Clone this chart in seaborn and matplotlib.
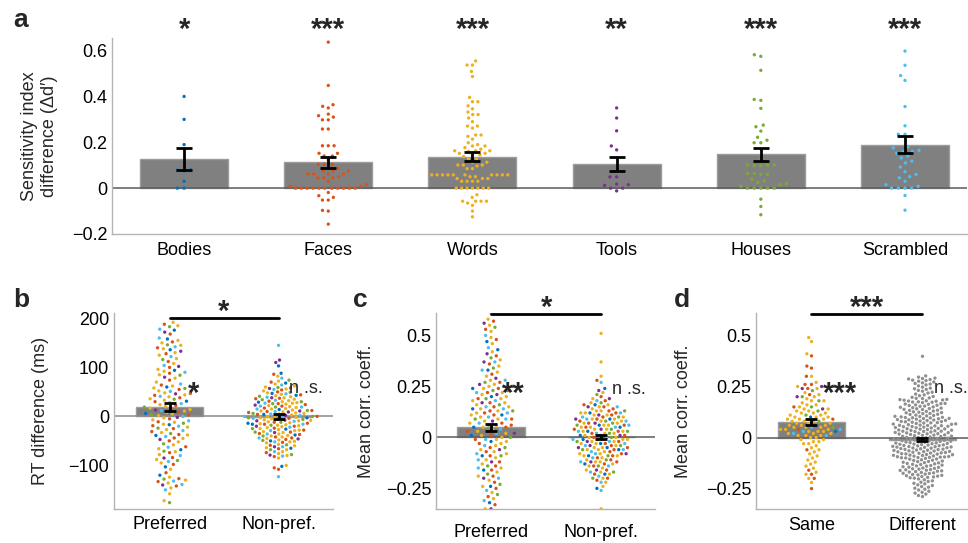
import matplotlib
matplotlib.use("Agg")
import matplotlib.pyplot as plt
import numpy as np
import pandas as pd
import seaborn as sns

# ---------------------------------------------------------------- data
CATEGORIES = ["Bodies", "Faces", "Words", "Tools", "Houses", "Scrambled"]
CAT_COLORS = ["#0072BD", "#D95319", "#EDB120", "#7E2F8E", "#77AC30", "#4DBEEE"]
OTHER_COLOR = "#8f8f8f"

# panel a: sensitivity index difference per subject / category
a_bodies = [0.40, 0.30, 0.19, 0.08, 0.078, 0.075, 0.03, 0.0, 0.0]
a_faces = [0.637, 0.448, 0.364, 0.357, 0.35, 0.323, 0.316, 0.31, 0.298, 0.298,
           0.258, 0.258, 0.185, 0.185, 0.185, 0.152, 0.152, 0.14, 0.14, 0.123,
           0.104, 0.104, 0.104, 0.087, 0.087, 0.075, 0.075, 0.075, 0.062, 0.062,
           0.062, 0.062, 0.05, 0.045, 0.045, 0.045, 0.03, 0.015, 0.008, 0.008,
           0, 0, 0, 0, 0, 0, 0, 0, 0, 0, 0,
           -0.019, -0.033, -0.04, -0.052, -0.052, -0.097, -0.1, -0.157]
a_words = [0.555, 0.537, 0.537, 0.509, 0.487, 0.396, 0.377, 0.377, 0.359, 0.346,
           0.332, 0.321, 0.321, 0.306, 0.29, 0.271, 0.271, 0.262, 0.232, 0.232,
           0.226, 0.214, 0.198, 0.19, 0.184, 0.184, 0.177, 0.17, 0.163, 0.163,
           0.163, 0.16, 0.152, 0.152, 0.145, 0.145, 0.138, 0.128, 0.128, 0.113,
           0.113, 0.101, 0.101, 0.101, 0.097, 0.085, 0.085,
           0.058, 0.058, 0.058, 0.058, 0.058, 0.058, 0.058, 0.058, 0.058, 0.058,
           0.05, 0.05, 0.042, 0.042, 0.042, 0.03, 0.03, 0.03, 0.03,
           0, 0, 0, 0, 0, 0, 0,
           -0.029, -0.04, -0.057, -0.057, -0.057, -0.057, -0.065, -0.075, -0.1, -0.125]
a_tools = [0.35, 0.306, 0.25, 0.184, 0.167, 0.049, 0.049, 0.018, 0.015, 0.012, 0, 0, -0.012]
a_houses = [0.582, 0.575, 0.514, 0.387, 0.383, 0.348, 0.275, 0.268, 0.249, 0.222,
            0.209, 0.198, 0.198, 0.129, 0.101, 0.101, 0.098, 0.098, 0.1, 0.064,
            0.064, 0.06, 0.06, 0.038, 0.032, 0.025, 0.02, 0.015, 0.008,
            0, 0, 0, 0, 0, -0.048, -0.08, -0.116]
a_scrambled = [0.598, 0.536, 0.491, 0.47, 0.356, 0.272, 0.235, 0.235, 0.18, 0.176,
               0.165, 0.16, 0.16, 0.152, 0.14, 0.132, 0.118, 0.11, 0.092, 0.072,
               0.06, 0.05, 0.045, 0.03, 0.015, 0.008, 0, 0, 0, 0, -0.032, -0.096]
a_means = [0.128, 0.112, 0.138, 0.105, 0.147, 0.188]
a_err_lo = [0.081, 0.090, 0.120, 0.075, 0.118, 0.152]
a_err_hi = [0.175, 0.136, 0.156, 0.135, 0.177, 0.226]
a_stars = ["*", "***", "***", "**", "***", "***"]
a_yticks = [-0.2, 0, 0.2, 0.4, 0.6]
a_yticklabels = ["\u22120.2", "0", "0.2", "0.4", "0.6"]

# panel b: RT difference (ms)
b_groups = ["Preferred", "Non-pref."]
b_pref_bodies = [176, 158, 136, 94, 60, 31, 6, -17, -39, -68, -103, -120]
b_pref_faces = [188, 168, 152, 140, 128, 112, 100, 88, 74, 64, 55, 47, 38, 30, 22, 16, 9, 3,
                -5, -11, -19, -25, -31, -37, -44, -50, -62, -74, -84, -98, -115, -127, -133,
                -142, 43]
b_pref_words = [192, 185, 150, 145, 138, 130, 125, 118, 108, 96, 92, 85, 78, 70, 62, 58, 52,
                48, 44, 40, 36, 33, 28, 24, 20, 17, 14, 11, 8, 5, 2, -3, -7, -12, -16, -22,
                -27, -33, -38, -45, -52, -58, -66, -72, -78, -88, -95, -108, -124, -130,
                -136, -146, -158, -172, 155]
b_pref_tools = [172, 133, 102, 80, 46, 13, -2, -47, -85, -140]
b_pref_houses = [183, 146, 116, 84, 57, 35, 19, 4, -14, -24, -35, -56, -71, -90, -128, -176]
b_pref_scrambled = [178, 160, 142, 122, 104, 90, 66, 51, 41, 26, 12, 0, -9, -20, -29, -41,
                    -63, -80, -92, -132, -150, -139]
b_non_bodies = [103, 88, 68, 43, 29, 14, 4, -3, -14, -26, -38, -50, -65, -102, 47, -16]
b_non_faces = [86, 70, 58, 50, 44, 37, 31, 26, 21, 17, 12, 8, 4, 0, -4, -8, -12, -16, -20,
               -24, -28, -32, -37, -42, -47, -53, -59, -66, -74, -82, -105, -108, 24, 10,
               -6, -14, -35, -44, 54, 36]
b_non_words = [82, 72, 66, 60, 56, 52, 48, 45, 42, 38, 35, 32, 30, 27, 25, 22, 20, 18, 15,
               13, 11, 9, 7, 5, 3, 1, -1, -3, -5, -7, -9, -11, -13, -15, -17, -19, -21,
               -23, -25, -27, -29, -31, -33, -36, -39, -42, -45, -48, -51, -54, -57, -60,
               -64, -68, -72, -76, -80, -85, -100, 28, 16, 6, -2, -8, -18, -28, -40, -52,
               40, 62]
b_non_tools = [115, 110, 57, 38, 23, 11, 2, -9, -20, -33, -46, -62, -79, 9]
b_non_houses = [74, 59, 49, 41, 34, 26, 19, 12, 6, 0, -6, -12, -18, -25, -32, -40, -49,
                -58, -68, -78, 30, -3]
b_non_scrambled = [145, 78, 64, 55, 46, 39, 33, 27, 21, 15, 10, 5, 0, -4, -10, -16, -22,
                   -29, -36, -44, -52, -62, -72, -81, -123, 19, -2, 2]
b_means = [19, -1]
b_err_lo = [11, -6]
b_err_hi = [27, 4]
b_yticks = [-100, 0, 100, 200]
b_yticklabels = ["\u2212100", "0", "100", "200"]

# panel c: mean correlation coefficient (x 0.01)
c_groups = ["Preferred", "Non-pref."]
c_pref_bodies = [47, 43, 33, 24, 20, 14, 11, 5, 1, -2, -9, -16, -24, -32]
c_pref_faces = [57, 53, 48, 40, 36, 31, 27, 24, 22, 19, 17, 15, 13, 11, 9, 7, 5, 3, 1, -1,
                -3, -5, -7, -9, -12, -14, -16, -19, -22, -25, -29, -33, 23, 12, 6]
c_pref_words = [58, 55, 52, 49, 46, 42, 38, 35, 32, 30, 28, 26, 24, 22, 21, 19, 18, 16, 15,
                13, 12, 10, 9, 8, 6, 5, 3, 2, 0, -1, -3, -4, -6, -8, -10, -11, -13, -15,
                -17, -19, -21, -24, -27, -30, -35, 20, 14, 11, 7, 4, 1, -2, -7, 25, 17]
c_pref_tools = [56, 41, 37, 29, 26, 21, 17, 8, 2, -6, -12, -20, -35]
c_pref_houses = [54, 39, 34, 27, 23, 19, 16, 13, 9, 6, 3, 0, -5, -9, -14, -18, -23, -28]
c_pref_scrambled = [61, 50, 44, 37, 33, 28, 25, 22, 18, 15, 12, 10, 9, 7, 4, 2, -1, -4,
                    -8, -11, -15, -20, -26, -31, 14]
c_non_bodies = [24, 16, 12, 9, 6, 3, 1, -1, -3, -6, -9, -13, -18, -25, 5, -5]
c_non_faces = [28, 20, 18, 16, 14, 12, 10, 9, 8, 6, 5, 4, 2, 1, 0, -1, -3, -4, -6, -7, -9,
               -10, -12, -14, -16, -18, -20, -21, 11, 7, 3, -2, -5, -8, -11, 15, 13, -13]
c_non_words = [51, 37, 30, 22, 19, 17, 15, 14, 13, 12, 11, 10, 9, 8, 7, 6, 5, 4, 3, 2, 1,
               0, -1, -2, -3, -4, -5, -6, -7, -8, -9, -10, -11, -12, -13, -14, -15, -16,
               -18, -20, -22, -24, -35, 16, 12, 9, 6, 3, 0, -3, -6, -9, -12, 4, -1, 8, -5,
               2, 13, -17, 11, 7, 5, -2, -8]
c_non_tools = [23, 19, 15, 11, 7, 4, 1, -2, -5, -8, -12, -16, 9, -4]
c_non_houses = [21, 17, 13, 10, 8, 6, 4, 2, 0, -2, -4, -6, -9, -11, -14, -17, -20, 7, 3, -1]
c_non_scrambled = [27, 18, 15, 12, 10, 8, 6, 5, 3, 1, 0, -1, -3, -4, -6, -8, -10, -12,
                   -14, -17, -19, -22, -26, 9, 2, -2, -7]
c_means = [0.049, 0.003]
c_err_lo = [0.032, -0.007]
c_err_hi = [0.066, 0.013]
cd_yticks = [-0.25, 0, 0.25, 0.5]
cd_yticklabels = ["\u22120.25", "0", "0.25", "0.5"]

# panel d: mean correlation coefficient (same: x 0.01, different: x 0.001)
d_groups = ["Same", "Different"]
d_same_bodies = [10, 3]
d_same_faces = [40, 35, 34, 30, 26, 26, 24, 21, 15, 9, 4, -6, -16, -18, -25, -20]
d_same_words = [49, 47, 41, 30, 27, 25, 24, 22, 21, 20, 19, 18, 17, 16, 15, 14, 13, 12, 12,
                11, 11, 10, 10, 9, 9, 8, 8, 7, 7, 6, 6, 5, 5, 4, 4, 3, 3, 2, 2, 1, 1, 0, 0,
                -1, -1, -2, -3, -3, -4, -5, -6, -7, -8, -9, -10, -11, -12, -13, -14, -15,
                -17, -18, -20, -22, 14, 13, 10, 9, 8, 6, 5, 4, 2, 1, 16, 18, 12, 7, 3, -2]
d_same_tools = [25, 24, 20, 14]
d_same_houses = [23, 20, 18, 15, 13, 11, 8, 5]
d_same_scrambled = [5, 4, 3, 2, 1, 6]
d_diff = [398, 302, 296, 291, 287, 281, 276, 268,
          289, 284, 279, 272, 265, 258, 253, 247, 242, 236, 231, 227, 222, 218, 213, 209,
          205, 201, 262, 239,
          197, 194, 191, 187, 186, 183, 180, 178, 175, 173, 171, 167, 166, 163, 160, 158,
          157, 153, 150, 148, 146, 142, 141, 138, 137, 133, 130, 128, 126, 124, 121, 118,
          117, 113, 110, 108, 106, 103, 101, 192, 184, 174, 164, 154, 144, 134, 122, 114,
          104, 179,
          99, 98, 96, 94, 93, 92, 90, 88, 87, 86, 84, 83, 81, 79, 78, 77, 75, 73, 72, 71,
          69, 67, 66, 65, 63, 61, 60, 59, 57, 55, 54, 53, 51, 49, 48, 47, 45, 43, 42, 41,
          39, 37, 36, 35, 33, 31, 30, 29, 27, 25, 24, 23, 21, 19, 18, 17, 15, 13, 12, 11,
          9, 7, 6, 5, 3, 1, 0, 97, 58, 31,
          -1, -3, -4, -5, -7, -8, -9, -11, -12, -14, -15, -16, -18, -19, -21, -22, -23,
          -25, -26, -27, -29, -30, -32, -33, -34, -36, -37, -39, -40, -41, -43, -44, -45,
          -47, -48, -50, -51, -52, -54, -55, -57, -58, -59, -61, -62, -63, -65, -66, -68,
          -69, -70, -72, -73, -75, -76, -77, -79, -80, -81, -83, -84, -86, -87, -88, -90,
          -91, -93, -94, -95, -96, -97, -98, -99, -100, -46,
          -102, -105, -106, -109, -111, -112, -115, -117, -118, -121, -123, -124, -127,
          -129, -131, -132, -135, -137, -139, -140, -143, -145, -146, -149, -151, -153,
          -155, -157, -158, -161, -163, -165, -167, -169, -171, -173, -175, -176, -179,
          -181, -183, -185, -187, -189, -191, -193, -195, -197, -199, -160,
          -203, -207, -212, -215, -219, -224, -227, -232, -235, -240, -243, -248, -253,
          -257, -263, -268, -272, -277, -284, -289]
d_means = [0.075, -0.010]
d_err_lo = [0.060, -0.017]
d_err_hi = [0.092, -0.003]

# ---------------------------------------------------------------- style
sns.set_style("white")
plt.rcParams["font.family"] = ["Liberation Sans", "DejaVu Sans"]
plt.rcParams["axes.unicode_minus"] = True

FIG_W, FIG_H = 968, 543
BAR_COLOR = "#808080"
BAR_EDGE = "#9c9c9c"
SPINE = "#b4b4b4"
PALETTE = dict(zip(CATEGORIES, CAT_COLORS))
PALETTE["Other"] = OTHER_COLOR
HUE_ORDER = CATEGORIES + ["Other"]
DOT = 2.4
FS = 13


def frame(x0, y0, x1, y1):
    return [x0 / FIG_W, 1 - y1 / FIG_H, (x1 - x0) / FIG_W, (y1 - y0) / FIG_H]


def long_df(groups):
    rows = []
    for g, catmap in groups:
        for c, vals, scale in catmap:
            for v in vals:
                rows.append((g, c, v * scale))
    return pd.DataFrame(rows, columns=["group", "cat", "val"])


def panel(ax, df, groups, means, lo, hi, width, layout_sizes, capsize, zero_color):
    sns.barplot(x=groups, y=means, order=groups, color=BAR_COLOR, saturation=1,
                width=width, edgecolor=BAR_EDGE, linewidth=1, errorbar=None,
                ax=ax, zorder=1)
    n0 = len(ax.collections)
    for g, size in zip(groups, layout_sizes):
        sns.swarmplot(data=df[df["group"] == g], x="group", y="val", hue="cat",
                      order=groups, hue_order=HUE_ORDER, palette=PALETTE, size=size,
                      linewidth=0, legend=False, ax=ax, zorder=2, warn_thresh=1)
    cols = list(ax.collections[n0:])
    pos = np.arange(len(groups))
    ax.axhline(0, color=zero_color, lw=1.1, zorder=1.5)
    ax.errorbar(pos, means, yerr=[np.subtract(means, lo), np.subtract(hi, means)],
                fmt="none", ecolor="black", elinewidth=2, capsize=capsize,
                capthick=2, zorder=5)
    for s in ["top", "right"]:
        ax.spines[s].set_visible(False)
    for s in ["left", "bottom"]:
        ax.spines[s].set_color(SPINE)
        ax.spines[s].set_linewidth(1)
    ax.tick_params(axis="both", direction="in", length=5, width=1, color=SPINE,
                   labelsize=FS, labelcolor="black")
    ax.set_xlabel("")
    return cols


fig = plt.figure(figsize=(FIG_W / 100, FIG_H / 100), dpi=100)
ax_a = fig.add_axes(frame(112, 38, 967, 234))
ax_b = fig.add_axes(frame(114, 313, 333, 509))
ax_c = fig.add_axes(frame(436, 313, 655, 509))
ax_d = fig.add_axes(frame(756, 313, 968, 509))

swarms = []

# ---- panel a
df_a = long_df([(c, [(c, v, 1.0)]) for c, v in zip(CATEGORIES, [a_bodies, a_faces, a_words,
                                                                 a_tools, a_houses,
                                                                 a_scrambled])])
swarms += panel(ax_a, df_a, CATEGORIES, a_means, a_err_lo, a_err_hi, 0.61,
                [4.6, 4.0, 3.7, 4.6, 4.6, 4.6], 6, "#5a5a5a")
ax_a.set_xlim(-0.5, 5.43)
ax_a.set_ylim(-0.2, 0.655)
ax_a.set_yticks(a_yticks, a_yticklabels)
ax_a.tick_params(axis="x", pad=6)
ax_a.set_ylabel("Sensitivity index\ndifference (\u0394d\u2032)", fontsize=FS, labelpad=10)
for i, s in enumerate(a_stars):
    ax_a.text(i, 0.998, s, transform=ax_a.get_xaxis_transform(), ha="center",
              va="baseline", fontsize=21, fontweight="bold")

# ---- panel b
df_b = long_df([
    ("Preferred", [(c, v, 1) for c, v in zip(CATEGORIES, [b_pref_bodies, b_pref_faces,
                                                          b_pref_words, b_pref_tools,
                                                          b_pref_houses, b_pref_scrambled])]),
    ("Non-pref.", [(c, v, 1) for c, v in zip(CATEGORIES, [b_non_bodies, b_non_faces,
                                                          b_non_words, b_non_tools,
                                                          b_non_houses, b_non_scrambled])]),
])
swarms += panel(ax_b, df_b, b_groups, b_means, b_err_lo, b_err_hi, 0.61, [4.0, 3.1], 4,
                "#8a8a8a")
ax_b.set_xlim(-0.51, 1.5)
ax_b.set_ylim(-189, 211)
ax_b.set_yticks(b_yticks, b_yticklabels)
ax_b.tick_params(axis="x", pad=5)
ax_b.set_ylabel("RT difference (ms)", fontsize=FS, labelpad=14)

# ---- panel c
df_c = long_df([
    ("Preferred", [(c, v, 0.01) for c, v in zip(CATEGORIES, [c_pref_bodies, c_pref_faces,
                                                             c_pref_words, c_pref_tools,
                                                             c_pref_houses,
                                                             c_pref_scrambled])]),
    ("Non-pref.", [(c, v, 0.01) for c, v in zip(CATEGORIES, [c_non_bodies, c_non_faces,
                                                             c_non_words, c_non_tools,
                                                             c_non_houses,
                                                             c_non_scrambled])]),
])
swarms += panel(ax_c, df_c, c_groups, c_means, c_err_lo, c_err_hi, 0.61, [4.0, 3.2], 4,
                "#5a5a5a")
ax_c.set_xlim(-0.5, 1.49)
ax_c.set_ylim(-0.351, 0.61)
ax_c.set_yticks(cd_yticks, cd_yticklabels)
ax_c.tick_params(axis="x", pad=11)
ax_c.set_ylabel("Mean corr. coeff.", fontsize=FS, labelpad=8)

# ---- panel d
df_d = long_df([
    ("Same", [(c, v, 0.01) for c, v in zip(CATEGORIES, [d_same_bodies, d_same_faces,
                                                        d_same_words, d_same_tools,
                                                        d_same_houses, d_same_scrambled])]),
    ("Different", [("Other", d_diff, 0.001)]),
])
swarms += panel(ax_d, df_d, d_groups, d_means, d_err_lo, d_err_hi, 0.61, [3.5, 2.9], 4,
                "#5a5a5a")
ax_d.set_xlim(-0.5, 1.41)
ax_d.set_ylim(-0.35, 0.61)
ax_d.set_yticks(cd_yticks, cd_yticklabels)
ax_d.tick_params(axis="x", pad=6)
ax_d.set_ylabel("Mean corr. coeff.", fontsize=FS, labelpad=10)

# significance annotations for b, c, d
for ax, ytop, top_star, inner, star_x, star_y, ns_y in [
        (ax_b, 200, "*", ["*", "n .s."], 0.17, 46, 57),
        (ax_c, 0.603, "*", ["**", "n .s."], 0.1, 0.212, 0.237),
        (ax_d, 0.603, "***", ["***", "n .s."], 0.1, 0.215, 0.24)]:
    ax.plot([0, 1], [ytop, ytop], color="black", lw=2, clip_on=False, zorder=6)
    ax.annotate(top_star, xy=(0.5, ytop), xytext=(0, -1), textcoords="offset points",
                ha="center", va="baseline", fontsize=21, fontweight="bold",
                annotation_clip=False)
    ax.text(star_x, star_y, inner[0], ha="left", va="center", fontsize=21,
            fontweight="bold", zorder=7)
    ax.text(1.1, ns_y, inner[1], ha="left", va="center", fontsize=FS, zorder=7)

# panel letters
for letter, x, y in [("a", 13, 27), ("b", 13, 307), ("c", 353, 307), ("d", 674, 307)]:
    fig.text(x / FIG_W, 1 - y / FIG_H, letter, fontsize=19, fontweight="bold",
             ha="left", va="baseline")

# swarm layout with wider spacing, then shrink dots to final size
fig.canvas.draw()
for col in swarms:
    if "draw" in col.__dict__:
        del col.draw
    col.set_sizes([DOT ** 2])
    col.set_zorder(2)

fig.savefig("out.png", dpi=100)
